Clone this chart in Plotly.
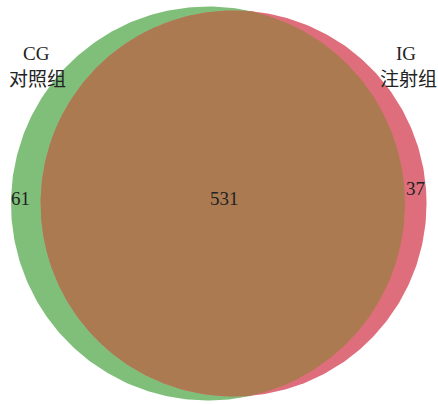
import math
import numpy as np
import plotly.graph_objects as go

# Data
set_names = ["CG", "IG"]
set_cn = ["对照组", "注射组"]
only_cg = 61
shared = 531
only_ig = 37

total_cg = only_cg + shared
total_ig = only_ig + shared

# geometry (pixel-like coordinate system)
W, H = 438, 404
scale = 197 / math.sqrt(total_cg)
r1 = scale * math.sqrt(total_cg)
r2 = scale * math.sqrt(total_ig)
target = shared * scale ** 2 * math.pi


def lens_area(d, ra, rb):
    if d >= ra + rb:
        return 0.0
    if d <= abs(ra - rb):
        return math.pi * min(ra, rb) ** 2
    a1 = ra ** 2 * math.acos((d ** 2 + ra ** 2 - rb ** 2) / (2 * d * ra))
    a2 = rb ** 2 * math.acos((d ** 2 + rb ** 2 - ra ** 2) / (2 * d * rb))
    a3 = 0.5 * math.sqrt((-d + ra + rb) * (d + ra - rb) * (d - ra + rb) * (d + ra + rb))
    return a1 + a2 - a3


lo, hi = abs(r1 - r2) + 1e-6, r1 + r2
for _ in range(100):
    mid = (lo + hi) / 2
    if lens_area(mid, r1, r2) > target:
        lo = mid
    else:
        hi = mid
d = (lo + hi) / 2

cx1, cy = 208.0, 203.5
cx2 = cx1 + d

GREEN = "#7fbf7a"
RED = "#de6e7b"
BROWN = "#ab7a50"


def circle(cx, cy, r, n=400):
    t = np.linspace(0, 2 * np.pi, n)
    return cx + r * np.cos(t), cy + r * np.sin(t)


fig = go.Figure()
x, y = circle(cx1, cy, r1)
fig.add_trace(go.Scatter(x=x, y=y, fill="toself", fillcolor=GREEN, mode="lines",
                         line=dict(width=0, color=GREEN), hoverinfo="skip", showlegend=False))
x, y = circle(cx2, cy, r2)
fig.add_trace(go.Scatter(x=x, y=y, fill="toself", fillcolor=RED, mode="lines",
                         line=dict(width=0, color=RED), hoverinfo="skip", showlegend=False))

# overlap lens
a = (d ** 2 + r1 ** 2 - r2 ** 2) / (2 * d)
th1 = math.acos(a / r1)
th2 = math.acos((a - d) / r2)
t1 = np.linspace(-th1, th1, 300)
t2 = np.linspace(th2, 2 * math.pi - th2, 600)
lx = np.concatenate([cx1 + r1 * np.cos(t1), cx2 + r2 * np.cos(t2)])
ly = np.concatenate([cy + r1 * np.sin(t1), cy + r2 * np.sin(t2)])
fig.add_trace(go.Scatter(x=lx, y=ly, fill="toself", fillcolor=BROWN, mode="lines",
                         line=dict(width=0, color=BROWN), hoverinfo="skip", showlegend=False))

latin = "Liberation Serif, Times New Roman, serif"
cjk = "Noto Sans CJK SC"
fsz = 19
txt = [
    (36, 53, set_names[0], latin),
    (37, 77, set_cn[0], cjk),
    (406, 53, set_names[1], latin),
    (408, 77, set_cn[1], cjk),
    (20, 198, str(only_cg), latin),
    (224, 198, str(shared), latin),
    (415, 188, str(only_ig), latin),
]
for tx, ty, s, f in txt:
    fig.add_annotation(x=tx, y=ty, text=s, showarrow=False,
                       font=dict(family=f, size=fsz, color="#222222"),
                       xanchor="center", yanchor="middle")

fig.update_layout(
    width=W, height=H, margin=dict(l=0, r=0, t=0, b=0),
    paper_bgcolor="white", plot_bgcolor="white",
    xaxis=dict(range=[0, W], visible=False, fixedrange=True),
    yaxis=dict(range=[H, 0], visible=False, fixedrange=True),
    showlegend=False,
)
fig.write_html(
    "out.html",
    config={"displayModeBar": False, "staticPlot": True},
    post_script="document.body.style.margin='0';document.body.style.overflow='hidden';",
)
